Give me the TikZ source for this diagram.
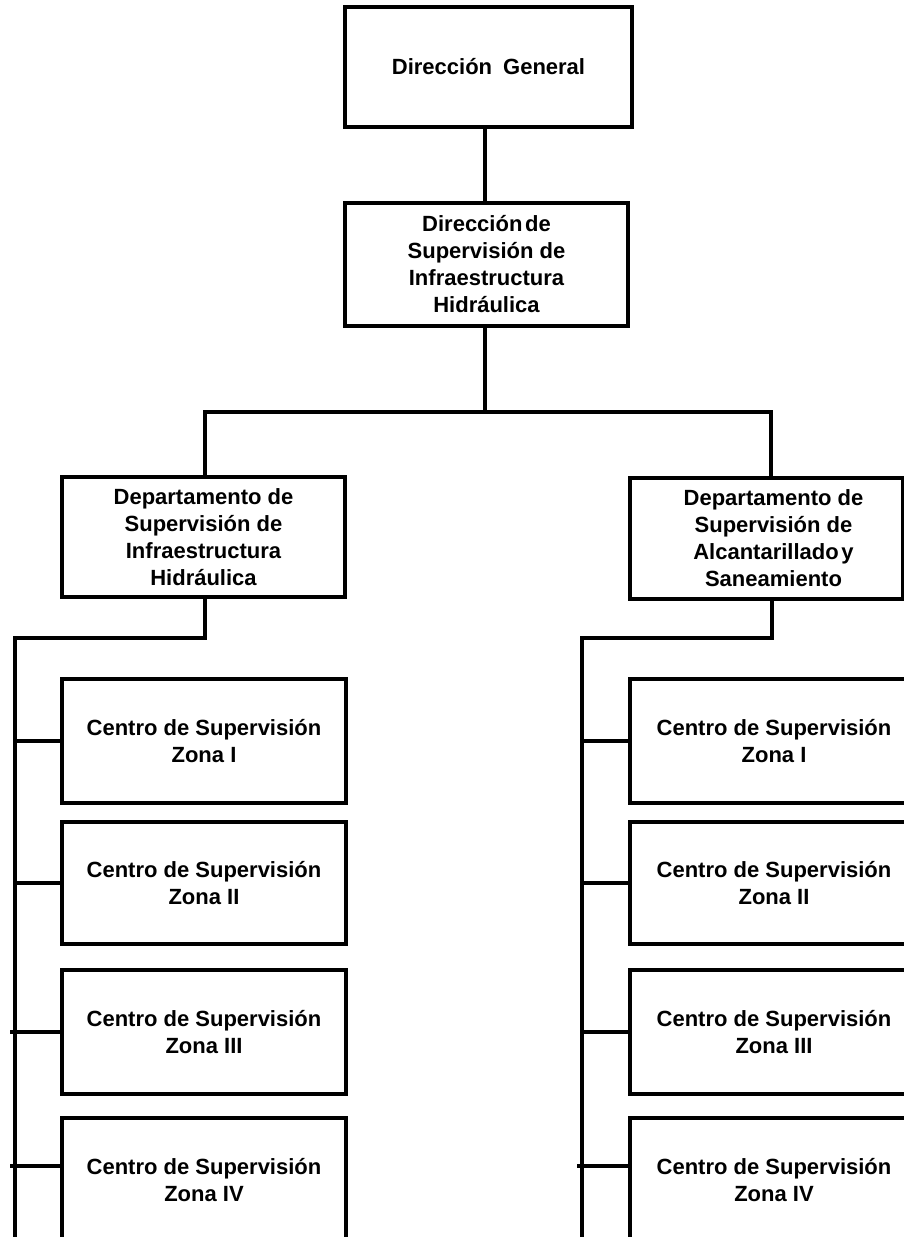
\documentclass[tikz,border=0pt]{standalone}
\usepackage{fontspec}
\setmainfont{Liberation Sans}
\begin{document}
\begin{tikzpicture}[x=1pt,y=-1pt,
  box/.style={draw=black, line width=3.5pt, fill=white, align=center, inner sep=0pt,
    font=\fontsize{22}{27}\selectfont\bfseries},
  conn/.style={draw=black, line width=3.5pt}]
\useasboundingbox (0,0) rectangle (904,1237);
\clip (0,0) rectangle (904,1237);
% top
\node[box, minimum width=287pt, minimum height=120pt] (dg) at (488.5,67) {Dirección\hspace{0.5em}General};
\node[box, minimum width=283pt, minimum height=123pt] (dsih) at (486.5,264.5)
  {Dirección\hspace{0.12em}de\\Supervisión de\\Infraestructura\\Hidráulica};
% departments
\node[box, minimum width=283pt, minimum height=120pt] (dl) at (203.5,537)
  {Departamento de\\Supervisión de\\Infraestructura\\Hidráulica};
\node[box, minimum width=273pt, minimum height=121pt,
  label={[align=center, font=\fontsize{22}{27}\selectfont\bfseries, xshift=7pt]center:Departamento de\\Supervisión de\\Alcantarillado\hspace{0.12em}y\\Saneamiento}]
  (dr) at (766.5,538.5) {};
% left centres
\node[box, minimum width=284pt, minimum height=124pt] (lc1) at (204,741) {Centro de Supervisión\\Zona I};
\node[box, minimum width=284pt, minimum height=122pt] (lc2) at (204,883) {Centro de Supervisión\\Zona II};
\node[box, minimum width=284pt, minimum height=124pt] (lc3) at (204,1032) {Centro de Supervisión\\Zona III};
\node[box, minimum width=284pt, minimum height=124pt] (lc4) at (204,1180) {Centro de Supervisión\\Zona IV};
% right centres
\node[box, minimum width=288pt, minimum height=124pt] (rc1) at (774,741) {Centro de Supervisión\\Zona I};
\node[box, minimum width=288pt, minimum height=122pt] (rc2) at (774,883) {Centro de Supervisión\\Zona II};
\node[box, minimum width=288pt, minimum height=124pt] (rc3) at (774,1032) {Centro de Supervisión\\Zona III};
\node[box, minimum width=288pt, minimum height=124pt] (rc4) at (774,1180) {Centro de Supervisión\\Zona IV};
% junction coordinates
\coordinate (bus) at (485,412);
\coordinate (jl) at (205,412);
\coordinate (jr) at (771,412);
\coordinate (ldrop) at (205,638);
\coordinate (lcorner) at (15,638);
\coordinate (lend) at (15,1240);
\coordinate (rdrop) at (772,638);
\coordinate (rcorner) at (582,638);
\coordinate (rend) at (582,1240);
\coordinate (lt4) at (10,1166);
\coordinate (rt4) at (577,1166);
% connectors
\draw[conn] (dg.south -| bus) -- (dsih.north -| bus);
\draw[conn] (dsih.south -| bus) -- (bus);
\draw[conn] (jl |- dl.north) -- (jl) -- (jr) -- (jr |- dr.north);
\draw[conn] (ldrop |- dl.south) -- (ldrop) -- (lcorner) -- (lend);
\draw[conn] (rdrop |- dr.south) -- (rdrop) -- (rcorner) -- (rend);
\draw[conn] (lcorner |- lc1.west) -- (lc1.west);
\draw[conn] (lcorner |- lc2.west) -- (lc2.west);
\draw[conn] ([xshift=-5pt]lcorner |- lc3.west) -- (lc3.west);
\draw[conn] (lt4) -- (lt4 -| lc4.west);
\draw[conn] (rcorner |- rc1.west) -- (rc1.west);
\draw[conn] (rcorner |- rc2.west) -- (rc2.west);
\draw[conn] (rcorner |- rc3.west) -- (rc3.west);
\draw[conn] (rt4) -- (rt4 -| rc4.west);
\end{tikzpicture}
\end{document}
